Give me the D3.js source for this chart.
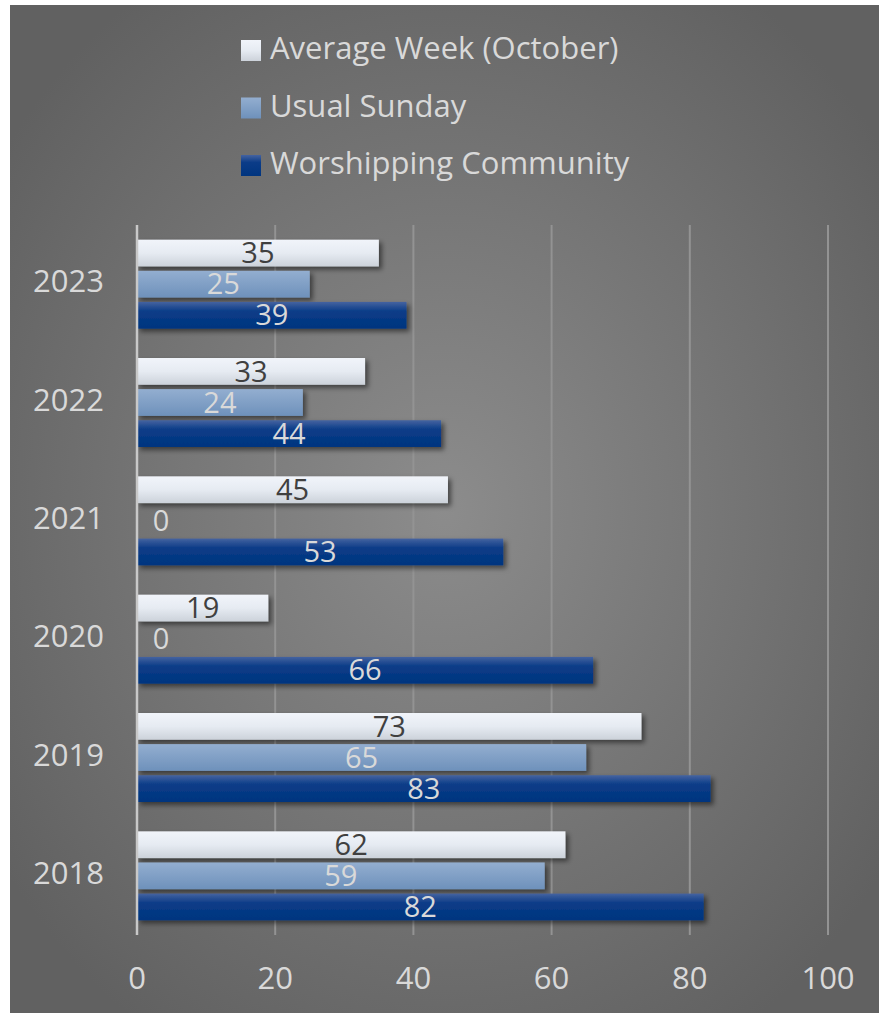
<!DOCTYPE html>
<html>
<head>
<meta charset="utf-8">
<script src="https://cdn.jsdelivr.net/npm/d3@7"></script>
<style>
  html, body { margin: 0; padding: 0; background: #ffffff; }
  svg { display: block; font-family: "Open Sans", Lato, sans-serif; }
</style>
</head>
<body>
<div id="chart"></div>
<script>
const years = ["2023", "2022", "2021", "2020", "2019", "2018"];
const seriesNames = ["Average Week (October)", "Usual Sunday", "Worshipping Community"];
const averageWeek = [35, 33, 45, 19, 73, 62];
const usualSunday = [25, 24, 0, 0, 65, 59];
const worshipping = [39, 44, 53, 66, 83, 82];
const xTicks = [0, 20, 40, 60, 80, 100];

const seriesValues = [averageWeek, usualSunday, worshipping];
const gradIds = ["gAvg", "gUsual", "gWorship"];
const labelColors = ["#404040", "#d9d9d9", "#d9d9d9"];

let width = 879;
let height = 1013;

let svg = d3.select("#chart")
    .append("svg")
    .attr("width", width)
    .attr("height", height);

let defs = svg.append("defs");

// background: lighter middle, darker edges
let bg = defs.append("radialGradient")
    .attr("id", "bgGrad")
    .attr("cx", "0.5").attr("cy", "0.5").attr("r", "0.62");
bg.append("stop").attr("offset", "0%").attr("stop-color", "#8c8c8c");
bg.append("stop").attr("offset", "100%").attr("stop-color", "#616161");

function barGrad(id, stops) {
    let g = defs.append("linearGradient")
        .attr("id", id)
        .attr("x1", 0).attr("y1", 0).attr("x2", 0).attr("y2", 1);
    stops.forEach(s => g.append("stop").attr("offset", s[0]).attr("stop-color", s[1]));
}
barGrad("gAvg", [["0%", "#f1f4fa"], ["50%", "#e6ebf2"], ["100%", "#ccd2da"]]);
barGrad("gUsual", [["0%", "#93aed0"], ["100%", "#6e91bb"]]);
barGrad("gWorship", [["0%", "#4563a0"], ["35%", "#0b3c88"], ["100%", "#00357f"]]);

let shadow = defs.append("filter")
    .attr("id", "shadow")
    .attr("x", "-5%").attr("y", "-30%").attr("width", "115%").attr("height", "180%");
shadow.append("feDropShadow")
    .attr("dx", 3).attr("dy", 3).attr("stdDeviation", 2.5)
    .attr("flood-color", "#000").attr("flood-opacity", 0.5);

svg.append("rect")
    .attr("x", 10).attr("y", 5)
    .attr("width", width - 10).attr("height", height - 5)
    .attr("fill", "url(#bgGrad)");

let x = d3.scaleLinear().domain([0, 100]).range([137, 828]);
let y = d3.scaleBand().domain(years).range([225, 935]).paddingInner(0.248).paddingOuter(0.124);
let ySub = d3.scaleBand().domain(d3.range(3)).range([0, y.bandwidth()]).paddingInner(0.14);

// gridlines
svg.append("g")
    .selectAll("line")
    .data(xTicks.slice(1))
    .join("line")
    .attr("x1", d => x(d)).attr("x2", d => x(d))
    .attr("y1", 225).attr("y2", 935)
    .attr("stroke", "#939393")
    .attr("stroke-width", 2);

// bars
let groups = svg.append("g")
    .selectAll("g")
    .data(years)
    .join("g")
    .attr("transform", d => "translate(0," + y(d) + ")");

groups.selectAll("rect")
    .data((d, i) => seriesValues.map((s, k) => ({ k: k, v: s[i] })))
    .join("rect")
    .attr("x", x(0))
    .attr("y", d => ySub(d.k))
    .attr("width", d => x(d.v) - x(0))
    .attr("height", ySub.bandwidth())
    .attr("fill", d => "url(#" + gradIds[d.k] + ")")
    .attr("filter", d => d.v > 0 ? "url(#shadow)" : null);

groups.selectAll("text")
    .data((d, i) => seriesValues.map((s, k) => ({ k: k, v: s[i] })))
    .join("text")
    .attr("x", d => d.v > 0 ? (x(0) + x(d.v)) / 2 : x(0) + 24)
    .attr("y", d => ySub(d.k) + ySub.bandwidth() / 2)
    .attr("dy", "0.35em")
    .attr("text-anchor", "middle")
    .attr("font-size", "29px")
    .attr("fill", d => d.v > 0 ? labelColors[d.k] : "#d9d9d9")
    .text(d => d.v);

// axis line
svg.append("line")
    .attr("x1", x(0)).attr("x2", x(0))
    .attr("y1", 225).attr("y2", 935)
    .attr("stroke", "#c8c8c8")
    .attr("stroke-width", 2.5);

// category labels
svg.append("g")
    .selectAll("text")
    .data(years)
    .join("text")
    .attr("x", 104)
    .attr("y", d => y(d) + y.bandwidth() / 2 - 3)
    .attr("dy", "0.36em")
    .attr("text-anchor", "end")
    .attr("font-size", "31px")
    .attr("fill", "#d9d9d9")
    .text(d => d);

// x tick labels
svg.append("g")
    .selectAll("text")
    .data(xTicks)
    .join("text")
    .attr("x", d => x(d))
    .attr("y", 978)
    .attr("dy", "0.36em")
    .attr("text-anchor", "middle")
    .attr("font-size", "31px")
    .attr("fill", "#d9d9d9")
    .text(d => d);

// legend
let legend = svg.append("g")
    .selectAll("g")
    .data(seriesNames)
    .join("g")
    .attr("transform", (d, i) => "translate(241," + (40 + i * 57.5) + ")");

legend.append("rect")
    .attr("width", 20).attr("height", 21)
    .attr("fill", (d, i) => "url(#" + gradIds[i] + ")");

legend.append("text")
    .attr("x", 29)
    .attr("y", 8)
    .attr("dy", "0.36em")
    .attr("font-size", "31px")
    .attr("fill", "#d9d9d9")
    .text(d => d);
</script>
</body>
</html>
